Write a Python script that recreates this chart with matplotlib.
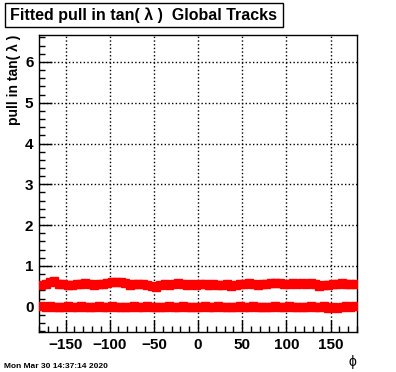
import matplotlib
matplotlib.use("Agg")
import matplotlib.pyplot as plt
from matplotlib.patches import Rectangle
from matplotlib.ticker import MultipleLocator

plt.rcParams['font.family'] = ['Liberation Sans', 'DejaVu Sans']

# bin centres in phi (5 degree bins)
phi = [-177.5 + 5 * i for i in range(72)]

# fitted sigma of pull (upper band), red points
sigma = [0.53, 0.55, 0.60, 0.62, 0.56, 0.55, 0.54, 0.52, 0.55, 0.56, 0.57, 0.55,
         0.54, 0.56, 0.55, 0.58, 0.60, 0.61, 0.60, 0.57, 0.54, 0.55, 0.56, 0.55,
         0.54, 0.50, 0.48, 0.53, 0.55, 0.54, 0.55, 0.57, 0.55, 0.54, 0.55, 0.54,
         0.55, 0.56, 0.53, 0.56, 0.54, 0.53, 0.55, 0.51, 0.54, 0.56, 0.55, 0.57,
         0.55, 0.54, 0.56, 0.55, 0.57, 0.58, 0.57, 0.55, 0.56, 0.57, 0.56, 0.57,
         0.56, 0.57, 0.55, 0.51, 0.52, 0.54, 0.55, 0.56, 0.57, 0.55, 0.56, 0.55]
# black reference underneath the upper band
sigma_ref = [0.52, 0.54, 0.58, 0.60, 0.55, 0.54, 0.52, 0.48, 0.53, 0.55, 0.56, 0.54,
             0.53, 0.55, 0.54, 0.57, 0.59, 0.60, 0.59, 0.56, 0.53, 0.54, 0.55, 0.54,
             0.53, 0.49, 0.47, 0.52, 0.54, 0.53, 0.54, 0.56, 0.54, 0.53, 0.54, 0.53,
             0.54, 0.55, 0.47, 0.55, 0.53, 0.52, 0.54, 0.50, 0.53, 0.55, 0.54, 0.56,
             0.54, 0.53, 0.55, 0.54, 0.56, 0.57, 0.56, 0.54, 0.55, 0.56, 0.55, 0.56,
             0.55, 0.56, 0.54, 0.49, 0.50, 0.53, 0.54, 0.55, 0.56, 0.54, 0.55, 0.54]
# fitted mean of pull (lower band)
mean = [0.01, 0.00, 0.01, 0.00, -0.01, 0.00, 0.01, 0.00, 0.00, 0.01, 0.00, -0.01,
        0.00, 0.01, 0.00, 0.00, 0.01, 0.00, 0.00, -0.01, 0.00, 0.01, 0.00, 0.00,
        0.01, 0.00, 0.00, -0.01, 0.00, 0.01, 0.00, 0.00, 0.01, 0.00, -0.01, 0.00,
        0.00, 0.01, 0.00, 0.00, 0.01, 0.00, -0.01, 0.00, 0.00, 0.01, 0.00, 0.00,
        0.01, 0.00, 0.00, -0.01, 0.00, 0.01, 0.00, 0.00, 0.01, 0.00, 0.00, -0.01,
        0.00, 0.01, 0.00, 0.00, 0.01, -0.02, -0.01, -0.03, 0.00, 0.01, 0.00, 0.01]
err_sigma = 0.05
err_mean = 0.04

fig = plt.figure(figsize=(3.96, 3.72), dpi=100)
ax = fig.add_axes([39 / 396, 40 / 372, 318 / 396, 297 / 372])

ax.plot(phi, sigma_ref, color='black', lw=3, drawstyle='steps-mid', zorder=2)
ax.plot(phi, mean, color='black', lw=2.5, drawstyle='steps-mid', zorder=2)
ax.errorbar(phi, sigma, yerr=err_sigma, fmt='s', color='red', ms=5.5, mec='red',
            elinewidth=2, capsize=0, zorder=3)
ax.errorbar(phi, mean, yerr=err_mean, fmt='s', color='red', ms=5.5, mec='red',
            elinewidth=2, capsize=0, zorder=3)

ax.set_xlim(-180, 180)
ax.set_ylim(-0.62, 6.66)
ax.xaxis.set_major_locator(MultipleLocator(50))
ax.xaxis.set_minor_locator(MultipleLocator(10))
ax.yaxis.set_major_locator(MultipleLocator(1))
ax.yaxis.set_minor_locator(MultipleLocator(0.2))
ax.tick_params(which='both', direction='in', top=False, right=False, width=1)
ax.tick_params(which='major', length=9, labelsize=11, pad=4)
ax.tick_params(which='minor', length=4.5)
for lab in ax.get_xticklabels() + ax.get_yticklabels():
    lab.set_fontweight('bold')
ax.grid(True, which='major', linestyle=':', color='black', lw=1)
for s in ax.spines.values():
    s.set_linewidth(1)

ax.set_ylabel('pull in tan( \u03bb )', fontsize=10, fontweight='bold', loc='top')
ax.yaxis.set_label_coords(-0.057, 1.0)
fig.text(352 / 396, 1 - 366 / 372, '\u03d5', fontsize=10, ha='center', va='baseline')
fig.text(4 / 396, 1 - 368 / 372, 'Mon Mar 30 14:37:14 2020', fontsize=6, fontweight='bold',
         ha='left', va='baseline')

fig.patches.append(Rectangle((5 / 396, 1 - 27 / 372), 278 / 396, 24 / 372,
                             transform=fig.transFigure, facecolor='white',
                             edgecolor='black', lw=1))
fig.text(144 / 396, 1 - 15 / 372, 'Fitted pull in tan( \u03bb )  Global Tracks',
         fontsize=11.5, fontweight='bold', ha='center', va='center')

fig.savefig('out.png', dpi=100)
